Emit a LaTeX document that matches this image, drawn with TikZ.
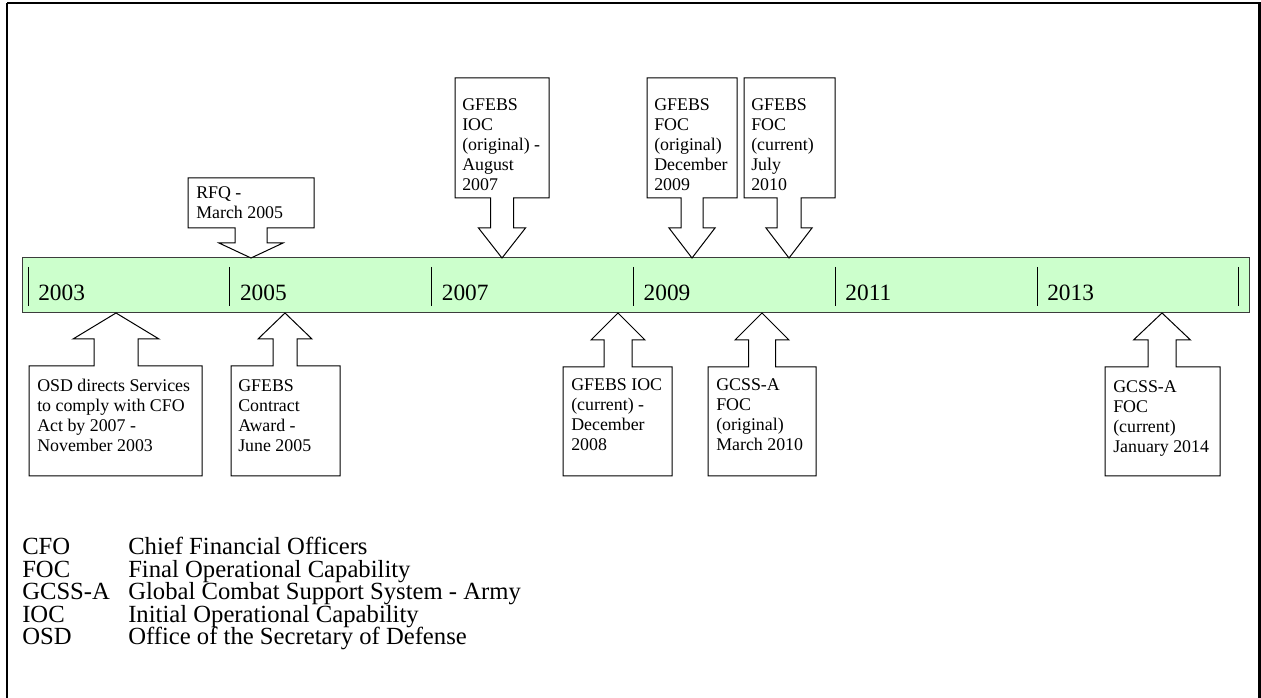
\documentclass[tikz,border=0pt]{standalone}
\usepackage{fontspec}
\setmainfont{Liberation Serif}
\definecolor{barfill}{RGB}{204, 255, 204}
\definecolor{barline}{RGB}{60, 60, 60}
\usepackage{tikz}
\usetikzlibrary{positioning, calc}

% box text, year labels, legend
\newcommand{\boxfont}{\fontsize{13.4}{15}\selectfont}
\newcommand{\yearfont}{\fontsize{17.5}{20}\selectfont}
\newcommand{\legfont}{\fontsize{18.5}{17}\selectfont}

\tikzset{
  callout/.style={draw=black, fill=white, line width=0.75pt, line join=miter},
  calltext/.style={anchor=north west, inner sep=0pt, align=left, font=\boxfont},
  yearlabel/.style={anchor=base west, inner sep=0pt, font=\yearfont},
  legtext/.style={anchor=base west, inner sep=0pt, font=\legfont}
}

% callout pointing down onto the bar: left, top, right, bottom, tip x, shaft half, head half, head y
\newcommand{\calldown}[8]{%
  \draw[callout] (#1,#2) -- (#3,#2) -- (#3,#4) -- (#5+#6,#4) -- (#5+#6,#8) -- (#5+#7,#8)
    -- (#5,0 |- bartop) -- (#5-#7,#8) -- (#5-#6,#8) -- (#5-#6,#4) -- (#1,#4) -- cycle;}
% callout pointing up onto the bar: left, top, right, bottom, tip x, shaft half, head half, head y
\newcommand{\callup}[8]{%
  \draw[callout] (#1,#4) -- (#1,#2) -- (#5-#6,#2) -- (#5-#6,#8) -- (#5-#7,#8)
    -- (#5,0 |- barbot) -- (#5+#7,#8) -- (#5+#6,#8) -- (#5+#6,#2) -- (#3,#2) -- (#3,#4) -- cycle;}

\begin{document}
\begin{tikzpicture}[x=0.75pt, y=-0.75pt]
  \useasboundingbox (0,0) rectangle (1261,698);
  % outer frame
  \draw[line width=1.9pt] (7,3) -- (1259.5,3) -- (1259.5,712);
  \draw[line width=1.9pt] (7,3) -- (7,712);

  % timeline bar
  \draw[draw=barline, fill=barfill, line width=0.75pt] (22,258) rectangle (1249,313);
  \coordinate (bartop) at (0,258);
  \coordinate (barbot) at (0,313);
  \foreach \i in {0,...,6}
    \draw[line width=0.6pt] (28+201.8*\i,267) -- (28+201.8*\i,306);
  \foreach \yr [count=\i from 0] in {2003,2005,2007,2009,2011,2013}
    \node[yearlabel] (y\yr) at (38+201.8*\i,301) {\yr};

  % events above the bar
  \calldown{188}{178}{314}{228}{251}{16}{32}{243}
  \node[calltext] (rfq) at (196,186) {RFQ -\\March 2005};
  \calldown{455}{78}{549}{198}{502}{11.5}{23.5}{228}
  \node[calltext] (iocorig) at (462,98) {GFEBS\\IOC\\(original) -\\August\\2007};
  \calldown{647}{78}{737}{198}{692}{11}{23}{228}
  \node[calltext] (focorig) at (654,98) {GFEBS\\FOC\\(original)\\December\\2009};
  \calldown{744}{78}{835}{198}{789}{12}{23}{228}
  \node[calltext] (foccurr) at (751,98) {GFEBS\\FOC\\(current)\\July\\2010};

  % events below the bar
  \callup{29}{366}{202}{476}{116}{22}{43}{339}
  \node[calltext] (osd) at (37,379) {OSD directs Services\\to comply with CFO\\Act by 2007 -\\November 2003};
  \callup{231}{366}{340}{476}{285}{12}{27}{339}
  \node[calltext] (award) at (238,379) {GFEBS\\Contract\\Award -\\June 2005};
  \callup{563}{367}{672}{476}{618}{14}{27}{340}
  \node[calltext] (ioccurr) at (571,378) {GFEBS IOC\\(current) -\\December\\2008};
  \callup{708}{367}{816}{476}{762}{13.5}{27}{340}
  \node[calltext] (gcssorig) at (716,378) {GCSS-A\\FOC\\(original)\\March 2010};
  \callup{1105}{367}{1220}{476}{1162}{14}{28.5}{340}
  \node[calltext] (gcsscurr) at (1113,380) {GCSS-A\\FOC\\(current)\\January 2014};

  % legend
  \foreach \ab/\df [count=\i from 0] in {CFO/Chief Financial Officers,
      FOC/Final Operational Capability, GCSS-A/Global Combat Support System - Army,
      IOC/Initial Operational Capability, OSD/Office of the Secretary of Defense} {
    \node[legtext] (ab\i) at (22,555+22.4*\i) {\ab};
    \node[legtext] (df\i) at (128,555+22.4*\i) {\df};
  }
\end{tikzpicture}
\end{document}
